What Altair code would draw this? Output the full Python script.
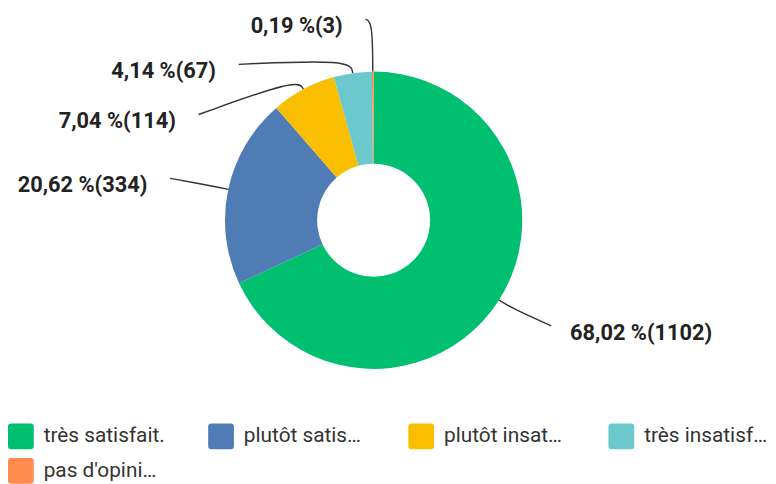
import math
import altair as alt
import pandas as pd

# ---- data ----
categories = ["très satisfait.", "plutôt satis…", "plutôt insat…", "très insatisf…", "pas d'opini…"]
counts = [1102, 334, 114, 67, 3]
colors = ["#00BF6F", "#507CB6", "#F9BE00", "#6BC8CD", "#FF8B4F"]

# ---- layout (leader-line geometry, not data) ----
ext = [15, 15, 12, 14, 50]          # radial extension of the leader line
end_dx = [40, -44, -100, -113, -7]  # horizontal run to label
end_dy = [18, -8, 36, 5, -3]
gap_left_side = 23   # gap for labels to the left of the pie
gap_right_side = 19  # gap for labels to the right of the pie
label_dy = 7

W, H = 738, 424
R_OUT, R_IN = 150, 57

total = sum(counts)
arc_df = pd.DataFrame({
    "cat": categories,
    "count": counts,
    "idx": list(range(len(categories))),
})

line_rows, text_rows = [], []
cum = 0
for i, (cat, c) in enumerate(zip(categories, counts)):
    mid = (cum + c / 2) / total * 2 * math.pi
    cum += c
    s, co = math.sin(mid), -math.cos(mid)
    p0 = (R_OUT * s, R_OUT * co)
    p1 = ((R_OUT + ext[i]) * s, (R_OUT + ext[i]) * co)
    p2 = (p1[0] + end_dx[i], p1[1] + end_dy[i])
    for k, p in enumerate([p0, p1, p2]):
        line_rows.append({"cat": cat, "step": k, "x": p[0], "y": p[1]})
    pct = f"{c / total * 100:.2f}".replace(".", ",")
    side = "left" if end_dx[i] > 0 else "right"
    tx = p2[0] + (gap_right_side if side == "left" else -gap_left_side)
    text_rows.append({"cat": cat, "label": f"{pct} %({c})", "x": tx,
                      "y": p2[1] + label_dy, "side": side})

line_df = pd.DataFrame(line_rows)
text_df = pd.DataFrame(text_rows)

xs = alt.Scale(domain=[-W / 2, W / 2], nice=False, zero=False)
ys = alt.Scale(domain=[-H / 2, H / 2], nice=False, zero=False, reverse=True)

rounded = "M-0.75,-1H0.75Q1,-1,1,-0.75V0.75Q1,1,0.75,1H-0.75Q-1,1,-1,0.75V-0.75Q-1,-1,-0.75,-1Z"

arcs = alt.Chart(arc_df).mark_arc(innerRadius=R_IN, outerRadius=R_OUT).encode(
    theta=alt.Theta("count:Q", stack=True),
    order=alt.Order("idx:Q"),
    color=alt.Color(
        "cat:N",
        scale=alt.Scale(domain=categories, range=colors),
        sort=categories,
        legend=alt.Legend(
            title=None, orient="none", legendX=0, legendY=417, columns=4,
            direction="horizontal", gridAlign="all", columnPadding=41, rowPadding=9,
            symbolType=rounded, symbolSize=676, symbolStrokeWidth=0, symbolOpacity=1,
            labelFont="Roboto", labelFontSize=21, labelColor="#333333",
            labelOffset=10, labelLimit=300, padding=0,
        ),
    ),
)

lines = alt.Chart(line_df).mark_line(interpolate="basis", color="#333333", strokeWidth=1.4).encode(
    x=alt.X("x:Q", scale=xs, axis=None),
    y=alt.Y("y:Q", scale=ys, axis=None),
    detail="cat:N",
    order="step:Q",
)

def labels(side):
    return alt.Chart(text_df).transform_filter(alt.datum.side == side).mark_text(
        align=side, baseline="middle", font="Roboto", fontSize=22, fontWeight="bold", color="#222222"
    ).encode(
        x=alt.X("x:Q", scale=xs, axis=None),
        y=alt.Y("y:Q", scale=ys, axis=None),
        text="label:N",
    )

chart = alt.layer(arcs, lines, labels("left"), labels("right")).properties(
    width=W, height=H, padding=0
).configure_view(stroke=None)

chart.save("out.html", embed_options={"renderer": "svg", "actions": False})
